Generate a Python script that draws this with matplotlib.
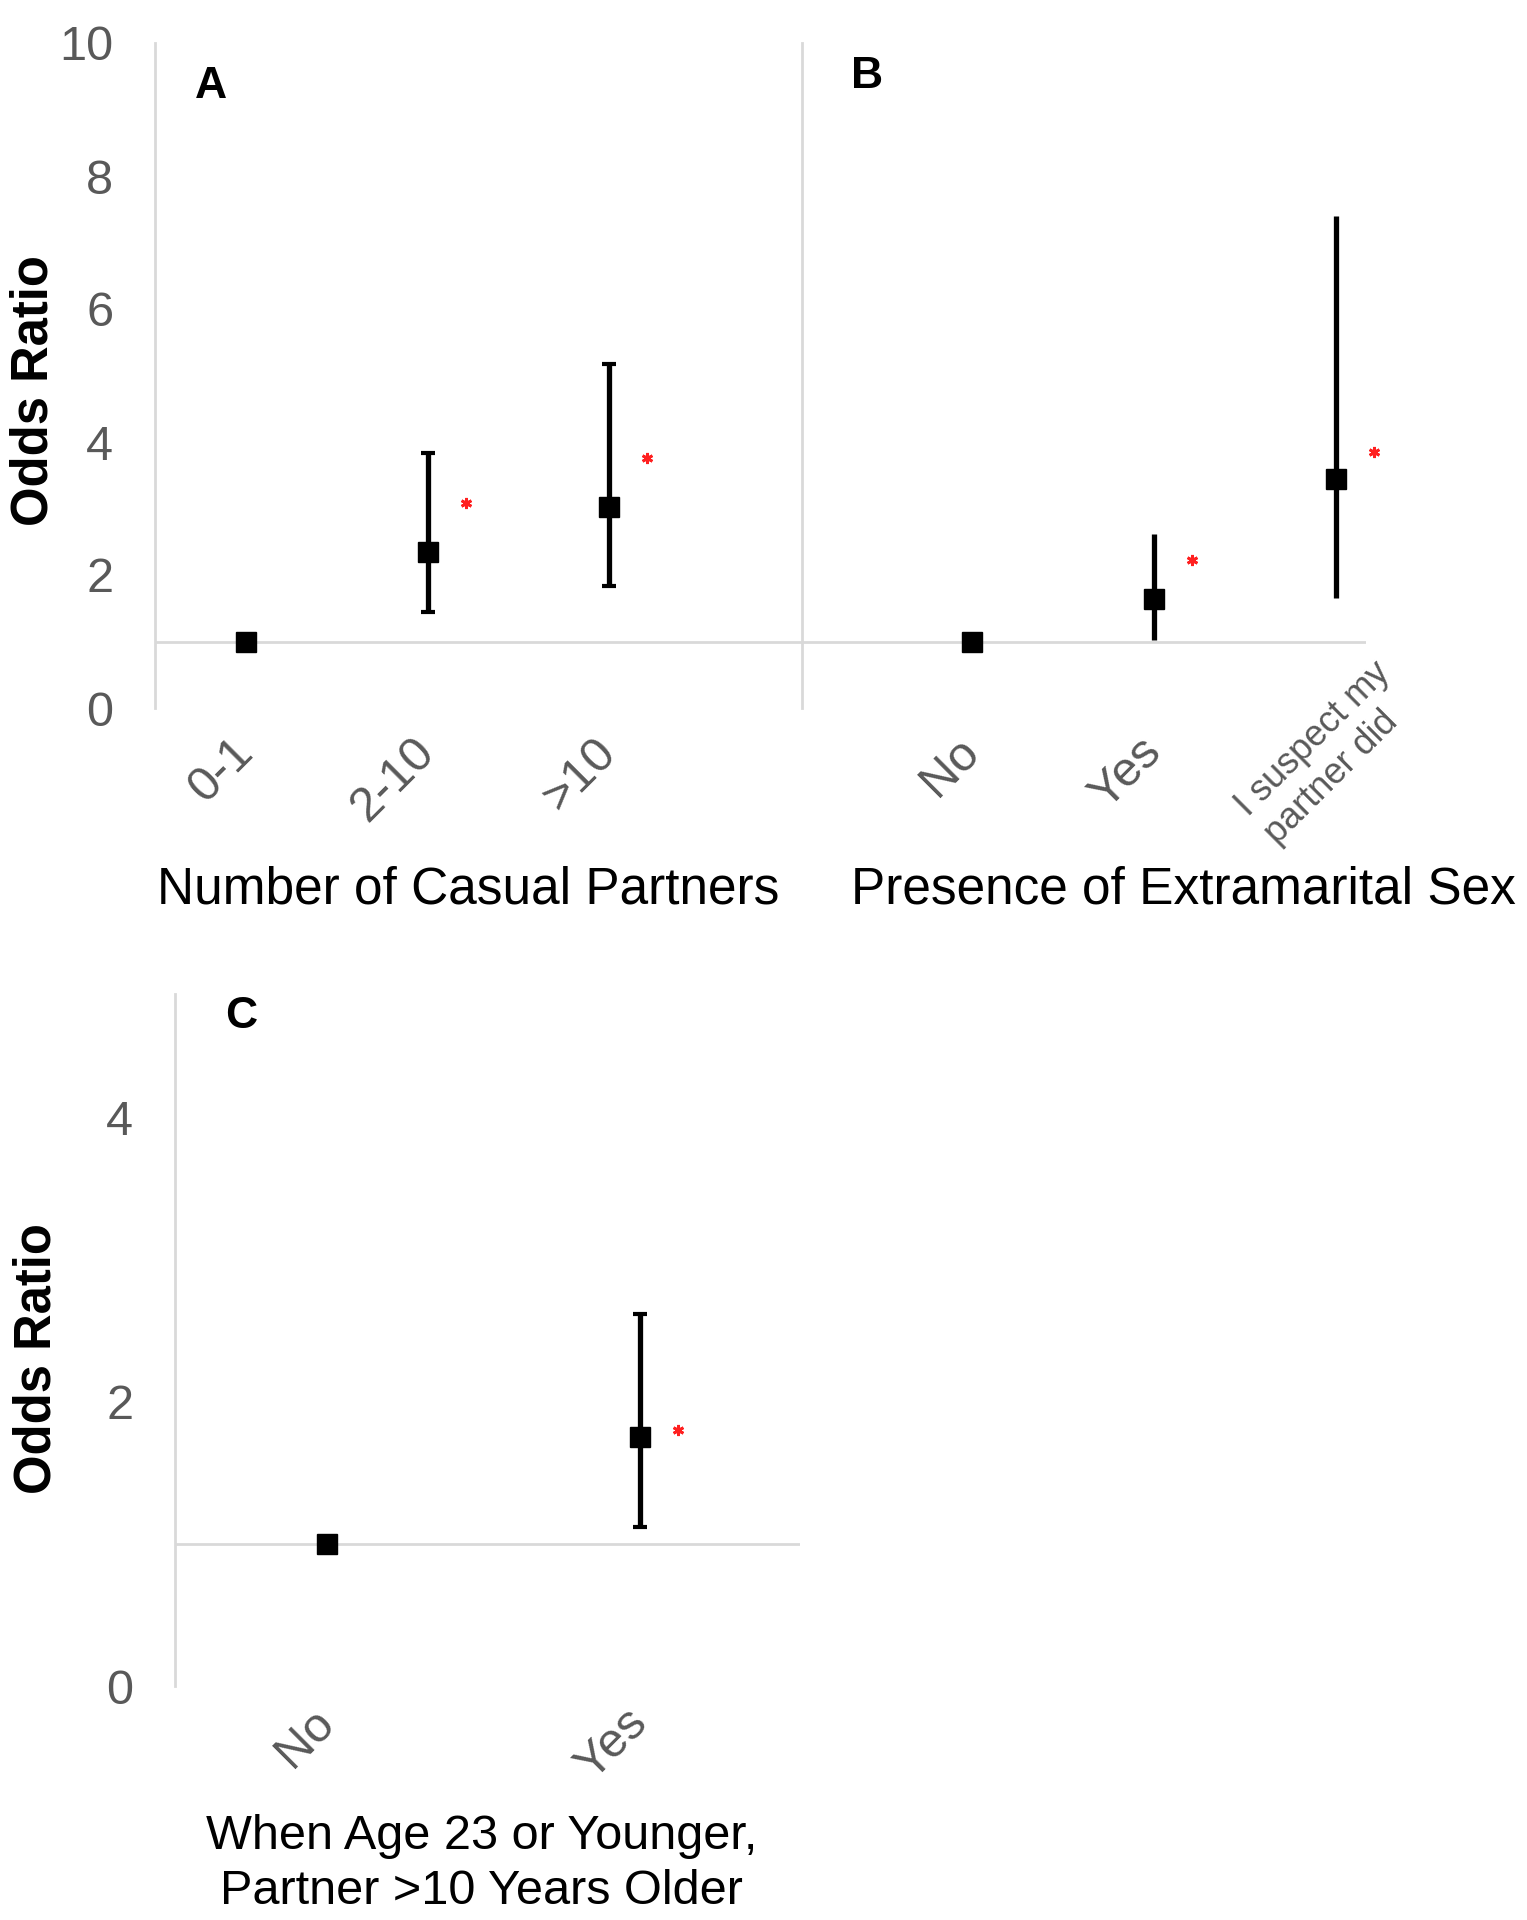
import numpy as np
import matplotlib.pyplot as plt
from matplotlib.transforms import ScaledTranslation

plt.rcParams['font.family'] = ['Liberation Sans', 'DejaVu Sans']

TXT_GRAY = '#595959'
LINE_GRAY = '#d9d9d9'

# panel A - number of casual partners
partnerCats = ['0-1', '2-10', '>10']
partnerOR = [1.0, 2.34, 3.02]
partnerLow = [None, 1.44, 1.84]
partnerHigh = [None, 3.83, 5.17]
partnerStar = [None, 3.09, 3.76]

# panel B - extramarital sex
extraCats = ['No', 'Yes', 'I suspect my\npartner did']
extraOR = [1.0, 1.64, 3.44]
extraLow = [None, 1.03, 1.66]
extraHigh = [None, 2.62, 7.40]
extraStar = [None, 2.23, 3.85]

# panel C - older partner
olderCats = ['No', 'Yes']
olderOR = [1.0, 1.75]
olderLow = [None, 1.12]
olderHigh = [None, 2.62]
olderStar = [None, 1.80]


def drawPanel(fig, ax, cats, oddsR, low, high, star, caps=True):
    x = np.arange(len(cats))
    ax.axhline(1, color=LINE_GRAY, lw=2, zorder=1)
    idx = [i for i in range(len(cats)) if low[i] is not None]
    if idx:
        yerr = [[oddsR[i] - low[i] for i in idx], [high[i] - oddsR[i] for i in idx]]
        ax.errorbar(x[idx], [oddsR[i] for i in idx], yerr=yerr, fmt='none', ecolor='black',
                    elinewidth=3.8, capsize=5 if caps else 0, capthick=3, zorder=2)
    ax.plot(x, oddsR, 's', color='black', ms=14, zorder=3)
    shift = ScaledTranslation(0.38, 0, fig.dpi_scale_trans)
    sx = [x[i] for i in idx]
    sy = [star[i] for i in idx]
    ax.plot(sx, sy, ls='none', marker=(6, 2, 0), ms=8, mew=2, color='#ff2020',
            transform=ax.transData + shift, zorder=3, clip_on=False)

    for s in ['top', 'right', 'bottom']:
        ax.spines[s].set_visible(False)
    ax.spines['left'].set_color(LINE_GRAY)
    ax.spines['left'].set_linewidth(2)
    ax.set_xticks(x, cats)
    ax.tick_params(axis='both', length=0, labelcolor=TXT_GRAY, labelsize=35)
    ax.tick_params(axis='y', pad=30)
    for lb in ax.get_xticklabels():
        lb.set_rotation(45)
        lb.set_ha('right')
        lb.set_va('center')
        lb.set_rotation_mode('anchor')


fig = plt.figure(figsize=(15.27, 19.2), dpi=100)
W, H = 1527, 1920


def axesAt(l, r, t, b):
    return fig.add_axes([l / W, 1 - b / H, (r - l) / W, (b - t) / H])


axA = axesAt(155, 802, 43, 708)
axB = axesAt(802, 1366, 43, 708)
axC = axesAt(175, 800, 994, 1686)

drawPanel(fig, axA, partnerCats, partnerOR, partnerLow, partnerHigh, partnerStar, caps=True)
drawPanel(fig, axB, extraCats, extraOR, extraLow, extraHigh, extraStar, caps=False)
drawPanel(fig, axC, olderCats, olderOR, olderLow, olderHigh, olderStar, caps=True)

axA.set_xlim(-0.5, 3.06)
axA.set_ylim(0, 10)
axA.set_yticks(range(0, 11, 2))
axA.tick_params(axis='x', pad=27)

axB.set_xlim(-0.934, 2.165)
axB.set_ylim(0, 10)
axB.set_yticks([])
axB.tick_params(axis='x', pad=27)
lb = axB.get_xticklabels()[-1]
lb.set_fontsize(26)
lb.set_multialignment('left')
lb.set_transform(lb.get_transform() + ScaledTranslation(0.63, 0.64, fig.dpi_scale_trans))

axC.set_xlim(-0.486, 1.51)
axC.set_ylim(0, 4.87)
axC.set_yticks([0, 2, 4])
axC.tick_params(axis='x', pad=22)

# axis titles
for ax, txt, cx, cy in [(axA, 'Number of Casual Partners', 0.484, -0.274),
                        (axB, 'Presence of Extramarital Sex', 0.676, -0.274),
                        (axC, 'When Age 23 or Younger,\nPartner >10 Years Older', 0.49, -0.257)]:
    ax.set_xlabel(txt, fontsize=37, color='black', linespacing=1.12)
    ax.xaxis.set_label_coords(cx, cy)
    ax.xaxis.label.set_va('center')

axC.xaxis.label.set_fontsize(35)
axC.xaxis.label.set_linespacing(1.3)

axA.set_ylabel('Odds Ratio', fontsize=36.5, fontweight='bold')
axA.yaxis.set_label_coords(-0.187, 0.477)
axC.set_ylabel('Odds Ratio', fontsize=36.5, fontweight='bold')
axC.yaxis.set_label_coords(-0.221, 0.473)
for ax in [axA, axC]:
    ax.yaxis.label.set_va('center')

axA.text(0.0866, 0.935, 'A', transform=axA.transAxes, fontsize=32, fontweight='bold', ha='center', va='center')
axB.text(0.115, 0.950, 'B', transform=axB.transAxes, fontsize=32, fontweight='bold', ha='center', va='center')
axC.text(0.106, 0.968, 'C', transform=axC.transAxes, fontsize=32, fontweight='bold', ha='center', va='center')

fig.savefig('out.png', dpi=100)
